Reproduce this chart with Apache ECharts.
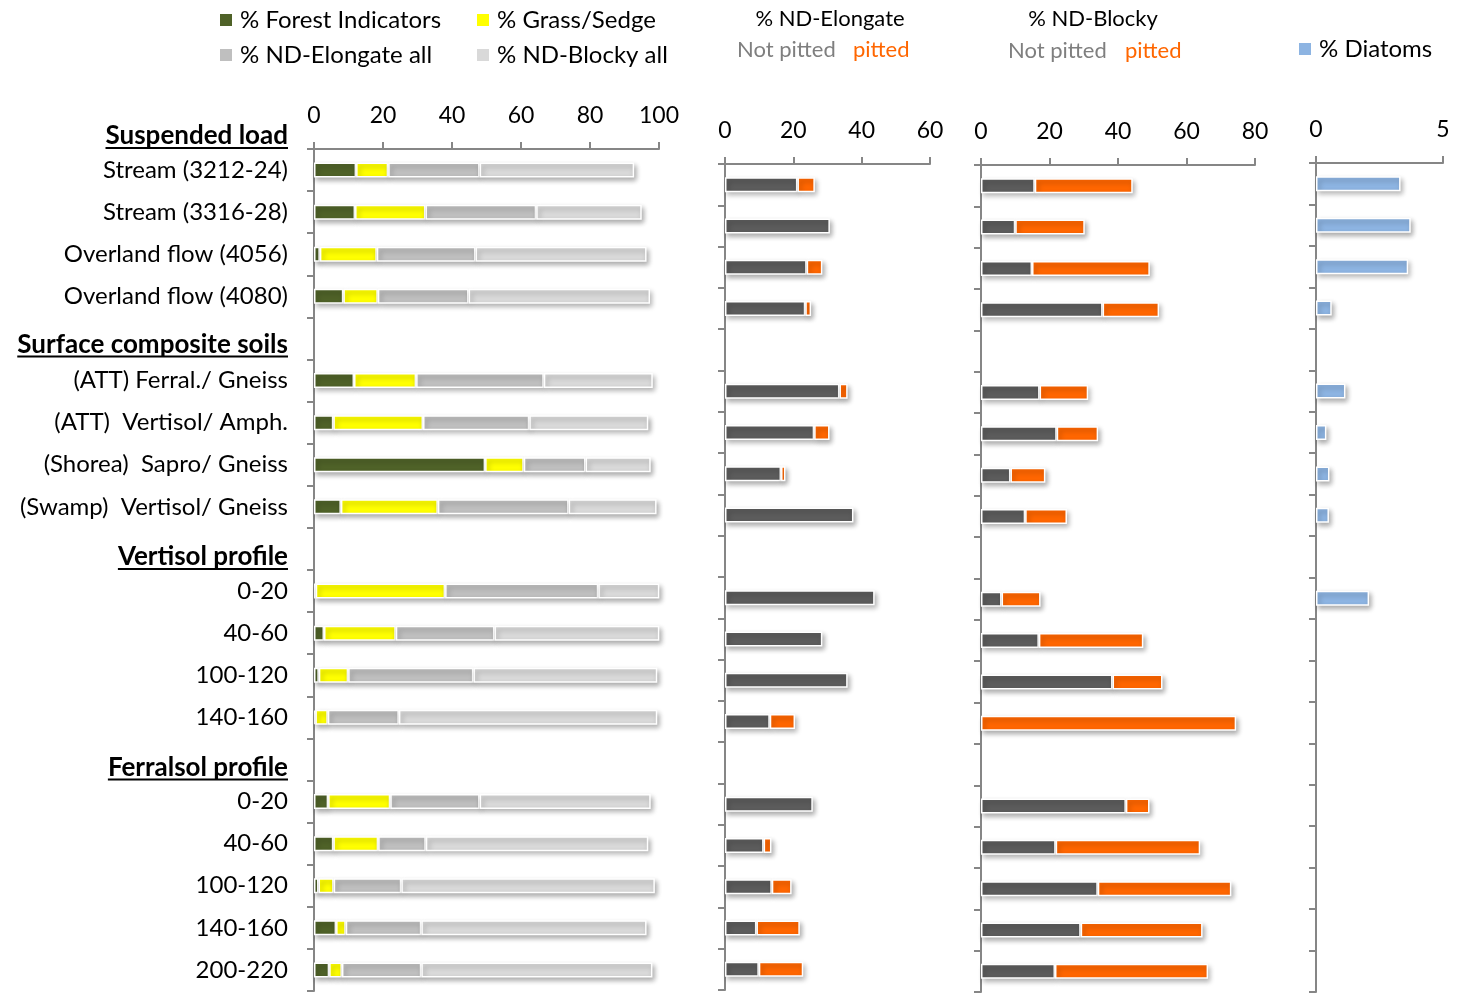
<!DOCTYPE html>
<html>
<head>
<meta charset="utf-8">
<script src="https://cdn.jsdelivr.net/npm/echarts@6/dist/echarts.min.js"></script>
<style>
  html, body { margin: 0; padding: 0; background: #fff; }
  #chart { width: 1464px; height: 995px; }
</style>
</head>
<body>
<div id="chart"></div>
<script>
// Row labels (top to bottom); group headings occupy their own empty row
const categories = [
  'Stream (3212-24)', 'Stream (3316-28)', 'Overland flow (4056)', 'Overland flow (4080)',
  'Surface composite soils',
  '(ATT) Ferral./ Gneiss', '(ATT)  Vertisol/ Amph.', '(Shorea)  Sapro/ Gneiss', '(Swamp)  Vertisol/ Gneiss',
  'Vertisol profile',
  '0-20', '40-60', '100-120', '140-160',
  'Ferralsol profile',
  '0-20', '40-60', '100-120', '140-160', '200-220'
];
const groupHeadings = ['Suspended load', 'Surface composite soils', 'Vertisol profile', 'Ferralsol profile'];

// Phytolith composition (%)
const forestIndicators = [12.2, 11.9, 1.7, 8.5, null, 11.6, 5.6, 49.6, 7.8, null, 0.5, 2.9, 1.4, 0.4, null, 4.1, 5.6, 1.3, 6.4, 4.4];
const grassSedge       = [9.3, 20.4, 16.5, 10.0, null, 18.0, 26.0, 11.2, 28.1, null, 37.5, 20.8, 8.5, 3.6, null, 18.0, 13.0, 4.4, 2.8, 3.7];
const ndElongateAll    = [26.5, 32.1, 28.6, 26.3, null, 37.0, 30.8, 17.9, 37.9, null, 44.4, 28.6, 36.3, 20.6, null, 25.9, 13.8, 19.6, 21.9, 23.0];
const ndBlockyAll      = [44.8, 30.6, 49.6, 52.6, null, 31.6, 34.5, 18.9, 25.5, null, 17.7, 47.8, 53.3, 74.9, null, 49.6, 64.5, 73.5, 65.3, 67.0];

// ND-Elongate split by surface pitting (%)
const elongateNotPitted = [21.2, 30.7, 23.9, 23.5, null, 33.5, 26.1, 16.4, 37.6, null, 43.8, 28.5, 35.9, 13.1, null, 25.7, 11.3, 13.7, 9.2, 9.9];
const elongatePitted    = [5.1, null, 4.6, 1.7, null, 2.4, 4.5, 1.3, null, null, null, null, null, 7.4, null, null, 2.3, 5.8, 12.7, 13.0];

// ND-Blocky split by surface pitting (%)
const blockyNotPitted = [15.7, 10.0, 14.9, 35.5, null, 17.1, 22.1, 8.6, 12.9, null, 6.0, 16.9, 38.4, null, null, 42.3, 21.8, 34.1, 29.1, 21.6];
const blockyPitted    = [28.6, 20.3, 34.4, 16.5, null, 14.2, 12.1, 10.2, 12.2, null, 11.4, 30.5, 14.6, 74.5, null, 6.9, 42.2, 39.0, 35.6, 44.7];

// Diatoms (%)
const diatoms = [3.33, 3.73, 3.63, 0.62, null, 1.16, 0.41, 0.53, 0.51, null, 2.09, null, null, null, null, null, null, null, null, null];

// Axis ranges
const axisMax = [100, 60, 80, 5];
const axisStep = [20, 20, 20, 5];

const FONT = 'Lato, "Open Sans", sans-serif';
const AXIS_GREY = '#868686';
const COLORS = {
  forest: '#4F6228', grass: '#FFFF00', elongAll: '#BFBFBF', blockyAll: '#D9D9D9',
  notPitted: '#5C5C5C', pitted: '#FF6600', diatoms: '#8DB4E2'
};

const grids = [
  { left: 314, top: 149, width: 345, height: 842 },
  { left: 725, top: 164, width: 205, height: 826 },
  { left: 981, top: 165, width: 274, height: 827 },
  { left: 1316, top: 163, width: 127, height: 829 }
];

const xAxes = grids.map((g, i) => ({
  type: 'value', gridIndex: i, position: 'top', min: 0, max: axisMax[i], interval: axisStep[i],
  splitLine: { show: false },
  axisLine: { show: true, lineStyle: { color: AXIS_GREY, width: 2 } },
  axisTick: { show: true, inside: false, length: 7, lineStyle: { color: AXIS_GREY, width: 2 } },
  axisLabel: { fontSize: 23, color: '#000', fontFamily: FONT, margin: 22 }
}));

const yAxes = grids.map((g, i) => ({
  type: 'category', gridIndex: i, inverse: true, data: categories,
  axisLine: { show: true, lineStyle: { color: AXIS_GREY, width: 2 } },
  axisTick: { show: true, length: 7, lineStyle: { color: AXIS_GREY, width: 2 } },
  axisLabel: {
    show: i === 0, fontSize: 24, color: '#000', fontFamily: FONT, margin: 26,
    formatter: v => groupHeadings.includes(v) ? '' : v
  }
}));

function barStyle(color) {
  return {
    color: color, borderColor: '#ffffff', borderWidth: 1.5,
    shadowBlur: 5, shadowColor: 'rgba(0,0,0,0.32)', shadowOffsetX: 2, shadowOffsetY: 3
  };
}

function bar(name, data, color, axis, stack) {
  return {
    type: 'bar', name: name, data: data, xAxisIndex: axis, yAxisIndex: axis,
    stack: stack, barWidth: 15, itemStyle: barStyle(color), silent: true
  };
}

const series = [
  bar('% Forest Indicators', forestIndicators, COLORS.forest, 0, 'comp'),
  bar('% Grass/Sedge', grassSedge, COLORS.grass, 0, 'comp'),
  bar('% ND-Elongate all', ndElongateAll, COLORS.elongAll, 0, 'comp'),
  bar('% ND-Blocky all', ndBlockyAll, COLORS.blockyAll, 0, 'comp'),
  bar('Elongate not pitted', elongateNotPitted, COLORS.notPitted, 1, 'elong'),
  bar('Elongate pitted', elongatePitted, COLORS.pitted, 1, 'elong'),
  bar('Blocky not pitted', blockyNotPitted, COLORS.notPitted, 2, 'blocky'),
  bar('Blocky pitted', blockyPitted, COLORS.pitted, 2, 'blocky'),
  bar('% Diatoms', diatoms, COLORS.diatoms, 3, 'diat')
];

function legendAt(name, left, top) {
  return {
    data: [name], left: left, top: top, icon: 'rect', itemWidth: 12, itemHeight: 12,
    selectedMode: false,
    itemStyle: { borderWidth: 0, shadowBlur: 0, shadowOffsetX: 0, shadowOffsetY: 0 },
    textStyle: { fontSize: 24, color: '#000', fontFamily: FONT, padding: [0, 0, 0, 3] }
  };
}

const chart = echarts.init(document.getElementById('chart'));
chart.setOption({
  animation: false,
  backgroundColor: '#ffffff',
  grid: grids,
  xAxis: xAxes,
  yAxis: yAxes,
  legend: [
    legendAt('% Forest Indicators', 215, 3),
    legendAt('% Grass/Sedge', 472, 3),
    legendAt('% ND-Elongate all', 215, 38),
    legendAt('% ND-Blocky all', 472, 38),
    legendAt('% Diatoms', 1294, 32)
  ],
  series: series
});

// Group headings, pitting captions and heading underlines
function textWidth(text, font) {
  const ctx = document.createElement('canvas').getContext('2d');
  ctx.font = font;
  return ctx.measureText(text).width;
}

const labelRight = chart.convertToPixel({ xAxisIndex: 0 }, 0) - 26;
const row0 = chart.convertToPixel({ yAxisIndex: 0 }, 0);
const band = chart.convertToPixel({ yAxisIndex: 0 }, 1) - row0;
const headFont = 'bold 26px ' + FONT;
const graphics = [];

groupHeadings.forEach((h, k) => {
  const idx = categories.indexOf(h);
  const cy = (idx < 0 ? row0 - band : chart.convertToPixel({ yAxisIndex: 0 }, idx)) + (k === 1 ? 6 : 8);
  const w = textWidth(h, headFont);
  graphics.push({
    type: 'text', silent: true,
    style: { text: h, x: labelRight, y: cy, font: headFont, fill: '#000',
             textAlign: 'right', textVerticalAlign: 'middle', align: 'right', verticalAlign: 'middle' }
  });
  graphics.push({
    type: 'line', silent: true,
    shape: { x1: labelRight - w, y1: cy + 12, x2: labelRight, y2: cy + 12 },
    style: { stroke: '#000', lineWidth: 2 }
  });
});

const capFont = '22px ' + FONT;
function caption(text, x, y, color, align) {
  graphics.push({
    type: 'text', silent: true,
    style: { text: text, x: x, y: y, font: capFont, fill: color,
             textAlign: align, textVerticalAlign: 'middle', align: align, verticalAlign: 'middle' }
  });
}
caption('% ND-Elongate', 830, 19, '#000', 'center');
caption('Not pitted', 737, 50, '#7F7F7F', 'left');
caption('pitted', 853, 50, COLORS.pitted, 'left');
caption('% ND-Blocky', 1093, 19, '#000', 'center');
caption('Not pitted', 1008, 51, '#7F7F7F', 'left');
caption('pitted', 1125, 51, COLORS.pitted, 'left');

chart.setOption({ graphic: graphics });
</script>
</body>
</html>
